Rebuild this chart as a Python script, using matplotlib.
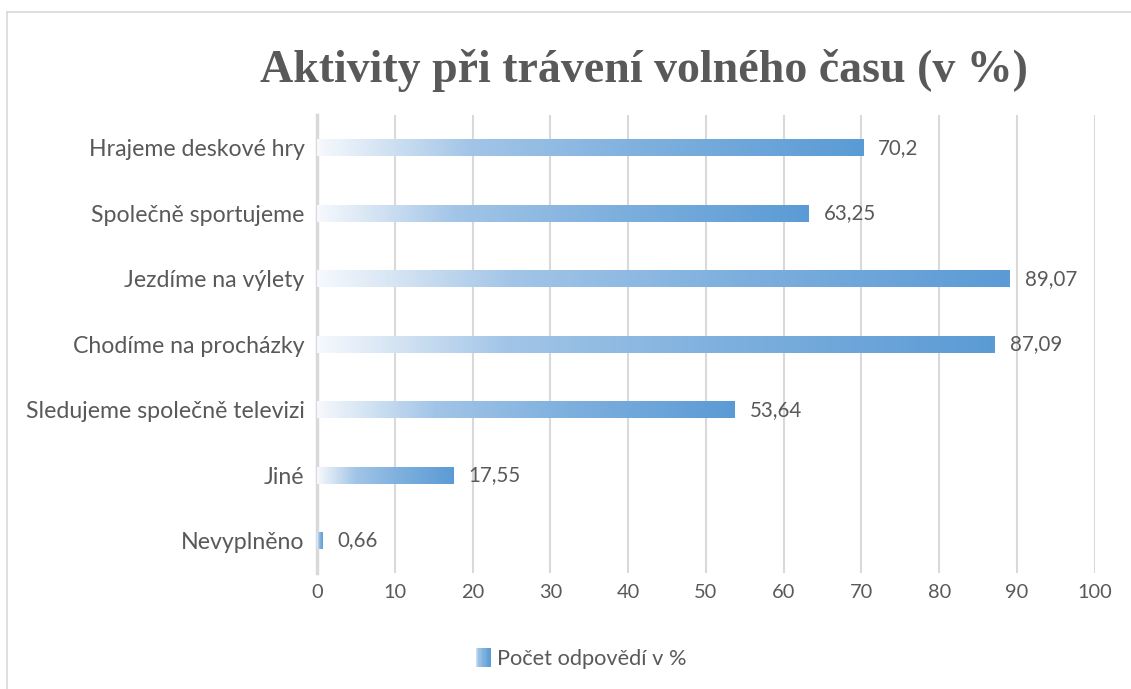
import numpy as np
import matplotlib
matplotlib.use("Agg")
import matplotlib.pyplot as plt
from matplotlib.colors import LinearSegmentedColormap
from matplotlib.lines import Line2D
from matplotlib.patches import Patch, Rectangle
from matplotlib.legend_handler import HandlerBase

# data (bottom -> top)
categories = ["Nevyplněno", "Jiné", "Sledujeme společně televizi",
              "Chodíme na procházky", "Jezdíme na výlety",
              "Společně sportujeme", "Hrajeme deskové hry"]
values = [0.66, 17.55, 53.64, 87.09, 89.07, 63.25, 70.2]
value_labels = ["0,66", "17,55", "53,64", "87,09", "89,07", "63,25", "70,2"]
xticks = [0, 10, 20, 30, 40, 50, 60, 70, 80, 90, 100]
title = "Aktivity při trávení volného času (v %)"
legend_label = "Počet odpovědí v %"

text_col = "#595959"
plt.rcParams['font.family'] = ['Lato', 'DejaVu Sans']

fig = plt.figure(figsize=(11.31, 6.89), dpi=100)
ax = fig.add_axes([0.2803, 0.168, 0.968 - 0.2803, 0.833 - 0.168])

cmap = LinearSegmentedColormap.from_list(
    "grad", [(0.0, "#f6f9fd"), (0.12, "#d3e3f3"), (0.28, "#a2c5e7"),
             (0.6, "#7eb0de"), (1.0, "#5b9bd5")])

y = np.arange(len(categories))
bars = ax.barh(y, values, height=0.26, color="none", edgecolor="none")
grad = np.linspace(0, 1, 256).reshape(1, -1)
for b in bars:
    x0, y0, w, h = b.get_x(), b.get_y(), b.get_width(), b.get_height()
    im = ax.imshow(grad, cmap=cmap, extent=[x0, x0 + w, y0, y0 + h],
                   aspect='auto', interpolation='bicubic', zorder=3)
    im.set_clip_path(b)

for yi, v, lab in zip(y, values, value_labels):
    ax.annotate(lab, (v, yi), xytext=(11, 0), textcoords='offset points',
                va='center', ha='left', fontsize=14.8, color=text_col)

ax.set_xlim(0, 100)
ax.set_ylim(-0.5, len(categories) - 0.5)
ax.set_xticks(xticks)
ax.set_yticks(y)
ax.set_yticklabels(categories)
ax.tick_params(axis='both', length=0, labelcolor=text_col)
ax.tick_params(axis='x', pad=8, labelsize=14.4)
ax.tick_params(axis='y', pad=9, labelsize=16.7)
ax.grid(True, axis='x', color='#d9d9d9', linewidth=1.5, zorder=0)
ax.set_axisbelow(True)
for s in ['top', 'right', 'bottom']:
    ax.spines[s].set_visible(False)
ax.spines['left'].set_color('#d9d9d9')
ax.spines['left'].set_linewidth(2.5)

fig.text(0.569, 0.898, title, ha='center', va='center',
         fontsize=33, fontweight='bold', color=text_col,
         family=['Liberation Serif', 'DejaVu Serif'])


class GradHandler(HandlerBase):
    def create_artists(self, legend, orig_handle, xdescent, ydescent,
                       width, height, fontsize, trans):
        arts = []
        n = 12
        for i in range(n):
            r = Rectangle((-xdescent + width * i / n, -ydescent), width / n + 0.3,
                          height, facecolor=cmap(0.15 + 0.85 * i / (n - 1)),
                          edgecolor='none', transform=trans)
            arts.append(r)
        return arts


leg = fig.legend(handles=[Patch(facecolor="#7fb0e0", edgecolor="none",
                                label=legend_label)],
                 handler_map={Patch: GradHandler()},
                 loc='center', bbox_to_anchor=(0.514, 0.044), frameon=False,
                 fontsize=15.7, handlelength=0.7, handleheight=0.95,
                 handletextpad=0.3)
for t in leg.get_texts():
    t.set_color(text_col)

# outer border (left and top)
fig.add_artist(Line2D([7 / 1131, 7 / 1131], [0, 1 - 12 / 689],
                      transform=fig.transFigure, color='#d9d9d9', lw=1.2))
fig.add_artist(Line2D([7 / 1131, 1], [1 - 12 / 689, 1 - 12 / 689],
                      transform=fig.transFigure, color='#d9d9d9', lw=1.2))

fig.savefig("out.png", dpi=100)
